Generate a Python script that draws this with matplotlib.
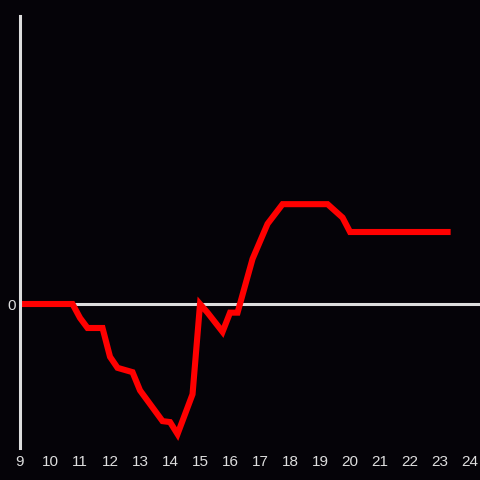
import numpy as np
import matplotlib
matplotlib.use("Agg")
import matplotlib.pyplot as plt

plt.rcParams['font.family'] = ['Liberation Sans', 'DejaVu Sans']

# time of day (hours) and value
hours = [9.0, 10.75, 11.0, 11.25, 11.75, 12.0, 12.25, 12.75, 13.0, 13.75, 14.0, 14.25,
         14.75, 15.0, 15.25, 15.75, 16.0, 16.25, 16.75, 17.25, 17.75, 19.25, 19.75, 20.0, 23.25]
values = [0, 0, -2.9, -5, -5, -11, -13.3, -14.2, -18, -24.4, -24.6, -27.1,
          -18.8, 0, -1.8, -5.8, -1.8, -1.8, 9.4, 16.7, 20.8, 20.8, 18, 15, 15]
xticks = list(range(9, 25))

bg = "#050308"
fg = "#dddddd"

fig = plt.figure(figsize=(4.8, 4.8), dpi=100, facecolor=bg)
ax = fig.add_axes([20 / 480, 32 / 480, 460 / 480, 432 / 480], facecolor=bg)

ax.axhline(0, color=fg, lw=2.2, zorder=1)
ax.plot(hours, values, color="#ff0000", lw=4.4, solid_joinstyle="miter", zorder=2)

ax.set_xlim(9, 24.33)
ax.set_ylim(-30, 60)
ax.set_xticks(xticks)
ax.set_xticklabels([str(t) for t in xticks])
ax.set_yticks([0])
ax.set_yticklabels(["0"])
ax.tick_params(colors=fg, length=0, labelsize=11)
ax.tick_params(axis="x", pad=5)
ax.tick_params(axis="y", pad=3)

for s in ["top", "right", "bottom"]:
    ax.spines[s].set_visible(False)
ax.spines["left"].set_color(fg)
ax.spines["left"].set_linewidth(2.2)

fig.savefig("out.png", dpi=100, facecolor=bg)
